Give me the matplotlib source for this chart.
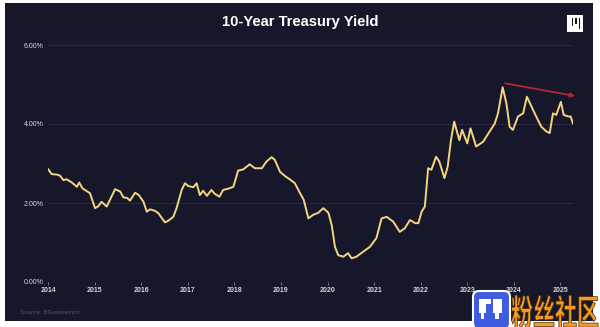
import matplotlib
matplotlib.use('Agg')
import matplotlib.pyplot as plt
from matplotlib.patches import Rectangle, FancyBboxPatch, PathPatch
from matplotlib.textpath import TextPath
from matplotlib.font_manager import FontProperties
from matplotlib.transforms import Affine2D

# 10-year yield, decimal year vs percent
years = [2014.00, 2014.08, 2014.19, 2014.26, 2014.33, 2014.40, 2014.51, 2014.62, 2014.67, 2014.74,
         2014.82, 2014.90, 2015.01, 2015.08, 2015.15, 2015.26, 2015.33, 2015.44, 2015.55, 2015.62,
         2015.70, 2015.76, 2015.87, 2015.95, 2016.05, 2016.12, 2016.19, 2016.30, 2016.37, 2016.51,
         2016.58, 2016.69, 2016.76, 2016.87, 2016.94, 2017.01, 2017.12, 2017.19, 2017.26, 2017.33,
         2017.41, 2017.51, 2017.58, 2017.68, 2017.76, 2017.89, 2017.98, 2018.08, 2018.19, 2018.33,
         2018.44, 2018.59, 2018.69, 2018.80, 2018.87, 2018.98, 2019.09, 2019.19, 2019.30, 2019.41,
         2019.49, 2019.59, 2019.69, 2019.80, 2019.91, 2020.02, 2020.09, 2020.16, 2020.23, 2020.34,
         2020.44, 2020.52, 2020.62, 2020.77, 2020.91, 2021.05, 2021.16, 2021.27, 2021.41, 2021.55,
         2021.66, 2021.77, 2021.88, 2021.95, 2022.02, 2022.09, 2022.16, 2022.23, 2022.33, 2022.40,
         2022.51, 2022.58, 2022.65, 2022.72, 2022.83, 2022.89, 2023.00, 2023.07, 2023.19, 2023.34,
         2023.48, 2023.59, 2023.66, 2023.76, 2023.84, 2023.91, 2023.98, 2024.09, 2024.20, 2024.28,
         2024.38, 2024.48, 2024.59, 2024.70, 2024.77, 2024.84, 2024.91, 2025.01, 2025.07, 2025.17,
         2025.22, 2025.27]
yields = [2.86, 2.73, 2.72, 2.69, 2.58, 2.60, 2.52, 2.41, 2.52, 2.37,
          2.31, 2.25, 1.87, 1.92, 2.03, 1.91, 2.08, 2.35, 2.29, 2.14,
          2.13, 2.06, 2.26, 2.20, 2.03, 1.78, 1.84, 1.80, 1.74, 1.51,
          1.55, 1.65, 1.87, 2.33, 2.50, 2.43, 2.40, 2.50, 2.20, 2.31,
          2.18, 2.33, 2.23, 2.16, 2.33, 2.37, 2.41, 2.82, 2.85, 2.98,
          2.88, 2.88, 3.05, 3.16, 3.09, 2.79, 2.68, 2.60, 2.50, 2.25,
          2.08, 1.61, 1.70, 1.75, 1.87, 1.75, 1.44, 0.89, 0.68, 0.64,
          0.73, 0.60, 0.64, 0.77, 0.89, 1.11, 1.61, 1.65, 1.53, 1.27,
          1.36, 1.57, 1.49, 1.49, 1.78, 1.91, 2.88, 2.84, 3.17, 3.05,
          2.63, 2.92, 3.59, 4.06, 3.59, 3.85, 3.51, 3.89, 3.43, 3.55,
          3.81, 4.01, 4.27, 4.93, 4.52, 3.93, 3.85, 4.19, 4.27, 4.69,
          4.44, 4.19, 3.93, 3.81, 3.77, 4.27, 4.23, 4.56, 4.23, 4.19,
          4.19, 4.01]

year_ticks = list(range(2014, 2026))
pct_ticks = [0, 2, 4, 6]
pct_labels = ['0.00%', '2.00%', '4.00%', '6.00%']

# lower-highs trend arrow (start, end)
trend_x = [2023.81, 2025.31]
trend_y = [5.03, 4.71]

BG = '#17172b'
LINE = '#f2d67f'
GRID = '#2b2b47'
AXIS = '#9a9aab'
TXT = '#d6d6de'

W, H = 600, 327
fig = plt.figure(figsize=(W / 100, H / 100), dpi=100, facecolor='white')
# pixel coords with origin at top-left
pix = Affine2D().scale(1 / 100, -1 / 100).translate(0, H / 100) + fig.dpi_scale_trans


def fx(p):
    return p / W


def fy(p):
    return 1 - p / H


fig.add_artist(Rectangle((5, 3), 588, 318, transform=pix, facecolor=BG, edgecolor='none', zorder=0))

ax = fig.add_axes([fx(48), fy(282), fx(573) - fx(48), fy(45) - fy(282)])
ax.set_facecolor('none')
for v in pct_ticks[1:]:
    ax.axhline(v, color=GRID, lw=0.6, zorder=0)
ax.axhline(0, color=AXIS, lw=0.7, zorder=1)
ax.plot(years, yields, color=LINE, lw=1.4, solid_joinstyle='round', zorder=3)
ax.annotate('', xy=(trend_x[1], trend_y[1]), xytext=(trend_x[0], trend_y[0]),
            arrowprops=dict(arrowstyle='-|>', color='#b2282f', lw=1.3, mutation_scale=6,
                            shrinkA=0, shrinkB=0),
            annotation_clip=False, zorder=4)

ax.set_xlim(2014, 2025.27)
ax.set_ylim(0, 6)
for s in ax.spines.values():
    s.set_visible(False)
ax.set_xticks(year_ticks)
ax.set_xticklabels([str(y) for y in year_ticks], fontweight='bold', family='Liberation Sans')
ax.set_yticks(pct_ticks)
ax.set_yticklabels(pct_labels, family='Liberation Sans')
ax.tick_params(axis='x', length=2, width=0.5, color=AXIS, pad=1.5, labelsize=5, labelcolor=TXT)
ax.tick_params(axis='y', length=0, pad=3, labelsize=5, labelcolor=TXT)

fig.text(0.5, fy(22), '10-Year Treasury Yield', ha='center', va='center', fontsize=10.6,
         fontweight='bold', color='white', family='Liberation Sans')
fig.text(fx(20), fy(313), 'Source: BGeometrics', ha='left', va='center', fontsize=4.5,
         style='italic', color='#55566c', family='Liberation Sans')

# brand mark, top right
fig.add_artist(Rectangle((567, 15), 16, 17, transform=pix, facecolor='white', edgecolor='none', zorder=5))
for bx, top, bot in [(571.5, 18, 26), (575, 18, 24), (578.5, 18, 29)]:
    fig.add_artist(Rectangle((bx, top), 1.7, bot - top, transform=pix, facecolor='#111', edgecolor='none', zorder=6))

# site badge, bottom right
fig.add_artist(FancyBboxPatch((473, 291), 37, 38, boxstyle='round,pad=0,rounding_size=6', transform=pix,
                              facecolor='#3f5be0', edgecolor='white', lw=1.5, zorder=7))
for rx, ry, rw, rh in [(479, 299, 7, 14), (486, 299, 5, 5), (493, 299, 9, 14), (495, 313, 4, 6), (481, 313, 3, 6)]:
    fig.add_artist(Rectangle((rx, ry), rw, rh, transform=pix, facecolor='white', edgecolor='none', zorder=8))

tp = TextPath((0, 0), '粉丝社区', size=22, prop=FontProperties(family='Noto Sans CJK SC', weight='bold'))
stretch = Affine2D().scale(1.0, -1.6).translate(511, 325)
fig.add_artist(PathPatch(tp, transform=stretch + pix, facecolor='#f59a1e', edgecolor='#4a2e0c',
                         lw=0.5, zorder=9))

fig.savefig('out.png', dpi=100, facecolor='white')
